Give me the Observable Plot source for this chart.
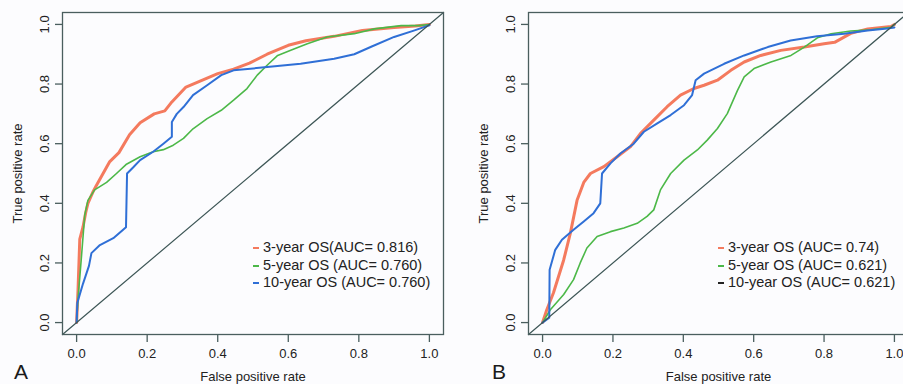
<!DOCTYPE html>
<html>
<head>
<meta charset="utf-8">
<script src="https://cdn.jsdelivr.net/npm/d3@7"></script>
<script src="https://cdn.jsdelivr.net/npm/@observablehq/plot@0.6"></script>
<style>
  html, body { margin: 0; padding: 0; background: #fcfcfe; overflow: hidden; }
  #wrap { position: relative; width: 903px; height: 384px; overflow: hidden; background: #fcfcfe; font-family: "Liberation Sans", Arial, sans-serif; }
  .panel { position: absolute; top: 0; }
  .panel svg { max-width: none !important; display: block; }
  .tag { position: absolute; font-size: 21px; color: #1a1a1a; line-height: 1; }
  .legend { position: absolute; font-size: 14.5px; color: #222; line-height: 17.5px; }
  .legend div { position: relative; white-space: nowrap; }
  .legend span.key { position: absolute; left: -10px; top: 8px; width: 6px; height: 2px; }
</style>
</head>
<body>
<div id="wrap"></div>
<script>
// ---------- Data ----------
const tickValues = [0, 0.2, 0.4, 0.6, 0.8, 1.0];
const diagonal = [-0.04, 1.04];

// Panel A
const fprA3 = [0, 0.004, 0.009, 0.018, 0.026, 0.032, 0.047, 0.056, 0.075, 0.094, 0.12, 0.15, 0.18, 0.22, 0.25, 0.27, 0.31, 0.35, 0.40, 0.445, 0.49, 0.54, 0.60, 0.65, 0.73, 0.81, 0.90, 0.96, 1];
const tprA3 = [0, 0.11, 0.28, 0.32, 0.37, 0.40, 0.44, 0.46, 0.50, 0.54, 0.57, 0.63, 0.67, 0.70, 0.71, 0.74, 0.79, 0.81, 0.835, 0.85, 0.87, 0.90, 0.93, 0.945, 0.96, 0.98, 0.99, 0.995, 1];

const fprA5 = [0, 0.004, 0.013, 0.023, 0.032, 0.051, 0.085, 0.113, 0.14, 0.18, 0.217, 0.246, 0.274, 0.303, 0.33, 0.37, 0.41, 0.445, 0.483, 0.512, 0.54, 0.57, 0.607, 0.654, 0.71, 0.787, 0.844, 0.92, 0.968, 1];
const tprA5 = [0, 0.08, 0.21, 0.36, 0.41, 0.445, 0.47, 0.50, 0.53, 0.556, 0.573, 0.58, 0.595, 0.618, 0.65, 0.684, 0.712, 0.746, 0.785, 0.83, 0.863, 0.896, 0.913, 0.935, 0.958, 0.969, 0.985, 0.996, 0.996, 1];

const fprA10 = [0, 0.002, 0.018, 0.035, 0.042, 0.066, 0.104, 0.14, 0.143, 0.16, 0.18, 0.217, 0.246, 0.27, 0.27, 0.284, 0.303, 0.33, 0.37, 0.41, 0.445, 0.54, 0.635, 0.73, 0.787, 0.835, 0.90, 0.958, 1];
const tprA10 = [0, 0.066, 0.13, 0.19, 0.233, 0.26, 0.283, 0.32, 0.50, 0.52, 0.545, 0.573, 0.60, 0.623, 0.673, 0.70, 0.723, 0.763, 0.796, 0.83, 0.846, 0.857, 0.868, 0.885, 0.90, 0.925, 0.958, 0.98, 0.997];

// Panel B
const fprB3 = [0, 0.012, 0.031, 0.06, 0.079, 0.098, 0.117, 0.136, 0.174, 0.212, 0.25, 0.278, 0.316, 0.354, 0.392, 0.43, 0.459, 0.497, 0.535, 0.573, 0.62, 0.677, 0.744, 0.80, 0.83, 0.876, 0.924, 0.99, 1];
const tprB3 = [0, 0.043, 0.10, 0.21, 0.30, 0.41, 0.47, 0.50, 0.523, 0.556, 0.59, 0.634, 0.679, 0.724, 0.763, 0.785, 0.796, 0.813, 0.846, 0.874, 0.896, 0.913, 0.924, 0.935, 0.94, 0.97, 0.985, 0.993, 1];

const fprB5 = [0, 0.022, 0.06, 0.088, 0.107, 0.126, 0.155, 0.193, 0.231, 0.269, 0.297, 0.316, 0.335, 0.364, 0.402, 0.44, 0.468, 0.497, 0.525, 0.554, 0.573, 0.601, 0.649, 0.706, 0.744, 0.781, 0.82, 0.876, 0.933, 0.99, 1];
const tprB5 = [0, 0.043, 0.094, 0.144, 0.20, 0.25, 0.289, 0.305, 0.317, 0.333, 0.356, 0.378, 0.445, 0.50, 0.545, 0.579, 0.612, 0.651, 0.701, 0.779, 0.824, 0.852, 0.874, 0.896, 0.924, 0.955, 0.969, 0.978, 0.982, 0.99, 1];

const fprB10 = [0, 0.019, 0.02, 0.036, 0.055, 0.088, 0.117, 0.145, 0.164, 0.169, 0.193, 0.221, 0.259, 0.288, 0.326, 0.364, 0.402, 0.425, 0.435, 0.459, 0.516, 0.573, 0.64, 0.705, 0.78, 0.857, 0.924, 0.98, 1];
const tprB10 = [0, 0.016, 0.177, 0.244, 0.278, 0.311, 0.339, 0.367, 0.40, 0.50, 0.534, 0.567, 0.60, 0.64, 0.668, 0.696, 0.729, 0.763, 0.813, 0.835, 0.868, 0.896, 0.924, 0.946, 0.96, 0.969, 0.98, 0.986, 0.99];

const seriesNames = ["3-year OS", "5-year OS", "10-year OS"];
const legendA = ["3-year OS(AUC= 0.816)", "5-year OS (AUC= 0.760)", "10-year OS (AUC= 0.760)"];
const legendB = ["3-year OS (AUC= 0.74)", "5-year OS (AUC= 0.621)", "10-year OS (AUC= 0.621)"];
const legendKeyA = ["#f47a5e", "#4cb848", "#2f6fd6"];
const legendKeyB = ["#f47a5e", "#4cb848", "#222222"];

// ---------- Styling ----------
const colors = {"3-year OS": "#f47a5e", "5-year OS": "#4cb848", "10-year OS": "#2f6fd6"};
const widths = {"3-year OS": 3, "5-year OS": 1.6, "10-year OS": 2};
const frameColor = "#4a5e5e";
const FONT = "Liberation Sans, Arial, sans-serif";

function toRows(fpr, tpr, name) {
  return fpr.map((x, i) => ({fpr: x, tpr: tpr[i], series: name}));
}

function makePanel(seriesList, width) {
  const marks = [];
  seriesList.forEach(([fpr, tpr, name]) => {
    marks.push(Plot.line(toRows(fpr, tpr, name), {
      x: "fpr", y: "tpr", stroke: colors[name], strokeWidth: widths[name],
      strokeLinejoin: "round", strokeLinecap: "round"
    }));
  });
  marks.push(Plot.line(diagonal.map(d => ({d})), {x: "d", y: "d", stroke: "#3d5656", strokeWidth: 1.2}));
  marks.push(Plot.frame({stroke: frameColor, strokeWidth: 1.3}));
  marks.push(Plot.axisX({
    ticks: tickValues, tickFormat: d3.format(".1f"), tickSize: 8, tickPadding: 6,
    fontSize: 13, stroke: frameColor, strokeWidth: 1.3, fill: "#222",
    label: "False positive rate", labelAnchor: "center", labelOffset: 46, labelArrow: "none"
  }));
  marks.push(Plot.axisY({
    ticks: tickValues, tickFormat: d3.format(".1f"), tickSize: 7, tickPadding: 7,
    tickRotate: -90, fontSize: 13, stroke: frameColor, strokeWidth: 1.3, fill: "#222",
    label: "True positive rate", labelAnchor: "center", labelOffset: 50, labelArrow: "none"
  }));
  return Plot.plot({
    width, height: 384,
    marginLeft: 62, marginRight: 7, marginTop: 12, marginBottom: 50,
    style: {background: "transparent", fontFamily: FONT, fontSize: "12px", color: "#222", overflow: "visible", maxWidth: "none"},
    x: {domain: [-0.04, 1.04]},
    y: {domain: [-0.04, 1.04]},
    marks
  });
}

const wrap = document.getElementById("wrap");

const plotA = makePanel([
  [fprA3, tprA3, seriesNames[0]],
  [fprA5, tprA5, seriesNames[1]],
  [fprA10, tprA10, seriesNames[2]]
], 450);
const divA = document.createElement("div");
divA.className = "panel"; divA.style.left = "0px"; divA.style.width = "450px";
divA.appendChild(plotA);
wrap.appendChild(divA);

const plotB = makePanel([
  [fprB3, tprB3, seriesNames[0]],
  [fprB5, tprB5, seriesNames[1]],
  [fprB10, tprB10, seriesNames[2]]
], 449);
const divB = document.createElement("div");
divB.className = "panel"; divB.style.left = "466px"; divB.style.width = "449px";
divB.appendChild(plotB);
wrap.appendChild(divB);

function addLegend(labels, keys, left, top) {
  const lg = document.createElement("div");
  lg.className = "legend";
  lg.style.left = left + "px";
  lg.style.top = top + "px";
  labels.forEach((t, i) => {
    const row = document.createElement("div");
    const k = document.createElement("span");
    k.className = "key";
    k.style.background = keys[i];
    row.appendChild(k);
    row.appendChild(document.createTextNode(t));
    lg.appendChild(row);
  });
  wrap.appendChild(lg);
}
addLegend(legendA, legendKeyA, 263, 239);
addLegend(legendB, legendKeyB, 728, 239);

function addTag(t, left) {
  const d = document.createElement("div");
  d.className = "tag";
  d.style.left = left + "px";
  d.style.top = "361px";
  d.textContent = t;
  wrap.appendChild(d);
}
addTag("A", 14);
addTag("B", 492);
</script>
</body>
</html>
